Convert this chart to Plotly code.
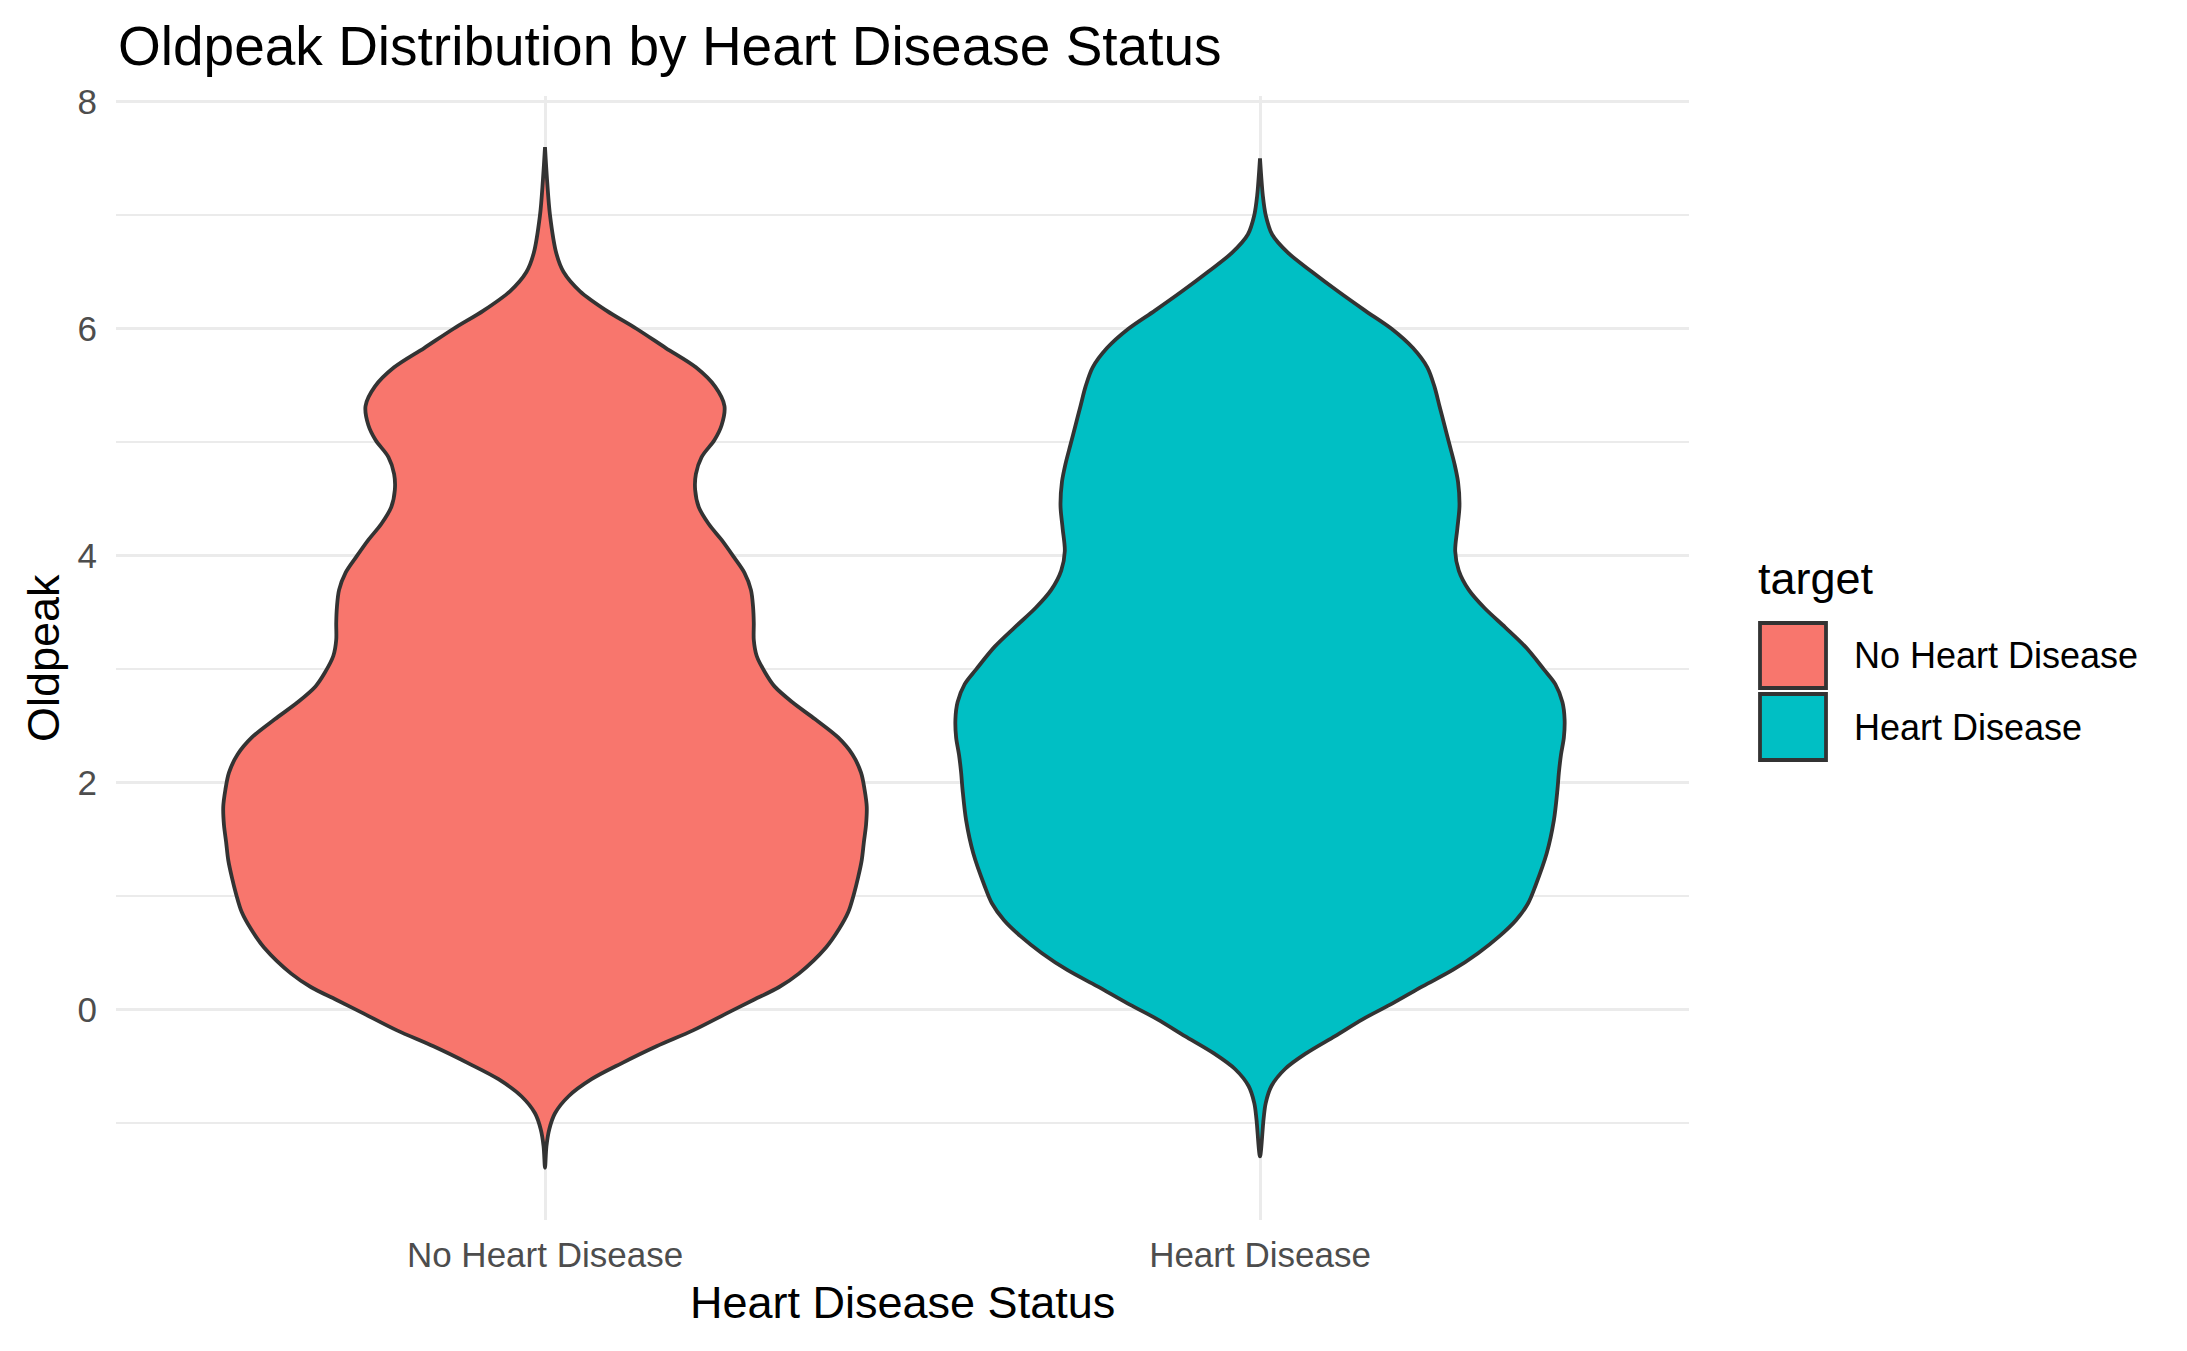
import plotly.graph_objects as go

# ---------------- data ----------------
categories = ["No Heart Disease", "Heart Disease"]
colors = ["#F8766D", "#00BFC4"]

# Oldpeak values (y) and violin half-width (in category-axis units) for each group
no_hd_oldpeak = [-1.39, -1.20, -1.05, -0.91, -0.76, -0.61, -0.47, -0.32, -0.18, -0.03,
                 0.09, 0.20, 0.32, 0.55, 0.71, 0.86, 1.02, 1.17, 1.32,
                 1.48, 1.63, 1.79, 1.94, 2.09, 2.25, 2.40, 2.56, 2.71, 2.85,
                 2.97, 3.12, 3.26, 3.41, 3.55, 3.70, 3.85, 3.99, 4.14, 4.28,
                 4.43, 4.58, 4.72, 4.87, 5.02, 5.15, 5.32, 5.49, 5.66, 5.83,
                 6.00, 6.16, 6.33, 6.50, 6.66, 7.00, 7.30, 7.60]
no_hd_halfwidth = [0.0, 0.002, 0.006, 0.014, 0.033, 0.065, 0.107, 0.156, 0.207, 0.254,
                   0.292, 0.327, 0.355, 0.393, 0.411, 0.424, 0.432, 0.438, 0.443,
                   0.446, 0.449, 0.450, 0.447, 0.442, 0.430, 0.410, 0.378, 0.346, 0.321,
                   0.308, 0.296, 0.292, 0.292, 0.291, 0.288, 0.279, 0.264, 0.247, 0.229,
                   0.215, 0.210, 0.211, 0.219, 0.237, 0.247, 0.251, 0.238, 0.211, 0.169,
                   0.128, 0.086, 0.049, 0.026, 0.016, 0.007, 0.003, 0.0]

hd_oldpeak = [-1.29, -0.96, -0.82, -0.67, -0.52, -0.38, -0.23, -0.08, 0.06, 0.21,
              0.35, 0.50, 0.65, 0.79, 0.94, 1.09, 1.38, 1.67, 1.94, 2.09,
              2.25, 2.40, 2.56, 2.71, 2.87, 3.00, 3.20, 3.37, 3.54, 3.70,
              3.87, 4.04, 4.24, 4.44, 4.65, 4.81, 4.98, 5.15, 5.32, 5.49,
              5.66, 5.83, 6.00, 6.16, 6.33, 6.50, 6.67, 6.83, 7.00, 7.17,
              7.50]
hd_halfwidth = [0.0, 0.005, 0.008, 0.016, 0.035, 0.065, 0.105, 0.144, 0.186, 0.228,
                0.269, 0.305, 0.335, 0.358, 0.375, 0.385, 0.401, 0.411, 0.416, 0.418,
                0.421, 0.425, 0.426, 0.423, 0.413, 0.397, 0.371, 0.343, 0.314, 0.292,
                0.278, 0.273, 0.276, 0.279, 0.277, 0.272, 0.265, 0.258, 0.251, 0.244,
                0.234, 0.214, 0.184, 0.147, 0.109, 0.073, 0.039, 0.017, 0.008, 0.004,
                0.0]

y_ticks = [0, 2, 4, 6, 8]
y_minor = [-1, 1, 3, 5, 7]

# ---------------- figure ----------------
W, H = 2187, 1351
L, R, T, B = 116, 1689, 96, 1220
FONT = "Liberation Sans, Arial, Helvetica, sans-serif"
OUTLINE = "#333333"

fig = go.Figure()

groups = [(no_hd_oldpeak, no_hd_halfwidth), (hd_oldpeak, hd_halfwidth)]
for i, (ys, hws) in enumerate(groups):
    center = i + 1
    xs = [center + w for w in hws] + [center - w for w in reversed(hws)]
    yy = list(ys) + list(reversed(ys))
    fig.add_trace(go.Scatter(
        x=xs, y=yy, mode="lines", fill="toself",
        fillcolor=colors[i],
        line=dict(color=OUTLINE, width=3.8, shape="spline", smoothing=0.9),
        name=categories[i], showlegend=False, hoverinfo="skip",
    ))


def px_x(px):
    return (px - L) / (R - L)


def px_y(py):
    return (B - py) / (B - T)


# custom legend (ggplot style)
shapes = []
annotations = []
key_boxes = [(623, 688), (694, 760)]
label_centers = [655, 727]
for i, cat in enumerate(categories):
    y0, y1 = key_boxes[i]
    shapes.append(dict(type="rect", xref="paper", yref="paper",
                       x0=px_x(1760), x1=px_x(1826), y0=px_y(y1), y1=px_y(y0),
                       fillcolor=colors[i], line=dict(color=OUTLINE, width=3.8)))
    annotations.append(dict(text=cat, xref="paper", yref="paper",
                            x=px_x(1852), y=px_y(label_centers[i]),
                            xanchor="left", yanchor="middle", showarrow=False,
                            font=dict(family=FONT, size=36, color="black")))
annotations.append(dict(text="target", xref="paper", yref="paper",
                        x=px_x(1756), y=px_y(578), xanchor="left", yanchor="middle",
                        showarrow=False, font=dict(family=FONT, size=45, color="black")))
# axis titles
annotations.append(dict(text="Heart Disease Status", xref="paper", yref="paper",
                        x=0.5, y=px_y(1302), xanchor="center", yanchor="middle",
                        showarrow=False, font=dict(family=FONT, size=45, color="black")))
annotations.append(dict(text="Oldpeak", xref="paper", yref="paper",
                        x=px_x(43), y=0.5, xanchor="center", yanchor="middle",
                        textangle=-90, showarrow=False,
                        font=dict(family=FONT, size=45, color="black")))

fig.update_layout(
    width=W, height=H,
    margin=dict(l=L, r=W - R, t=T, b=H - B, autoexpand=False),
    paper_bgcolor="white", plot_bgcolor="white",
    title=dict(text="Oldpeak Distribution by Heart Disease Status",
               x=118 / W, xref="container", xanchor="left",
               y=1 - 46 / H, yref="container", yanchor="middle",
               font=dict(family=FONT, size=55, color="black")),
    shapes=shapes, annotations=annotations,
    showlegend=False,
)

fig.update_xaxes(
    range=[0.4, 2.6], tickmode="array", tickvals=[1, 2], ticktext=categories,
    showgrid=True, gridcolor="#EBEBEB", gridwidth=3.2, zeroline=False, showline=False,
    ticks="", ticklabelstandoff=11,
    tickfont=dict(family=FONT, size=35, color="#4D4D4D"),
)
fig.update_yaxes(
    range=[-1.85, 8.05], tickmode="array", tickvals=y_ticks,
    showgrid=True, gridcolor="#EBEBEB", gridwidth=3.2, zeroline=False, showline=False,
    ticks="", ticklabelstandoff=18,
    tickfont=dict(family=FONT, size=35, color="#4D4D4D"),
    minor=dict(tickvals=y_minor, showgrid=True, gridcolor="#EBEBEB", gridwidth=1.7),
)

fig.write_html("out.html")
